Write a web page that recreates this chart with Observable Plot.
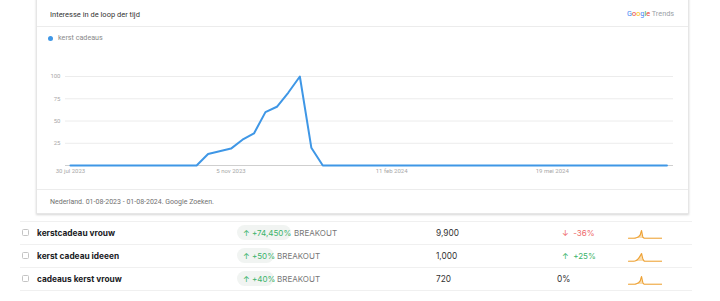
<!DOCTYPE html>
<html><head><meta charset="utf-8">
<script src="https://cdn.jsdelivr.net/npm/d3@7"></script>
<script src="https://cdn.jsdelivr.net/npm/@observablehq/plot@0.6"></script>
<style>
body{margin:0;width:720px;height:301px;position:relative;overflow:hidden;background:#fff;font-family:Roboto,sans-serif}
.abs{position:absolute;white-space:nowrap}
.card{left:36px;top:-4px;width:651px;height:216px;border:1px solid #e6e6e6;box-shadow:0 1px 2px rgba(0,0,0,.16);background:#fff}
.hline{height:1px;background:#ececec}
.t{line-height:10px;height:10px}
.q{font-family:Inter,sans-serif;font-weight:700;font-size:8.3px;color:#202124}
.pill{background:#f1f4f2;border-radius:8px;height:15px}
.grn{color:#3bb36a}
.red{color:#ee6a6a}
.gray{color:#777;font-family:Inter,sans-serif;font-size:8px}
.num{font-family:Inter,sans-serif;font-size:8.3px;color:#333}
.cb{width:5px;height:5px;border:1px solid #c4c4c4;border-radius:1.5px}
</style></head>
<body>
<div id="root"></div>
<script>
// ---- data ----
const series = "kerst cadeaus";
const startDate = "2023-07-30";
const weeklyValues = [0,0,0,0,0,0,0,0,0,0,0,0,13,16,19,29,36,60,66,82,100,20,0,0,0,0,0,0,0,0,0,0,0,0,0,0,0,0,0,0,0,0,0,0,0,0,0,0,0,0,0,0,0];
const xTickDates = ["2023-07-30","2023-11-05","2024-02-11","2024-05-19"];
const xTickLabels = ["30 jul 2023","5 nov 2023","11 feb 2024","19 mei 2024"];
const yTicks = [25,50,75,100];
const queries = ["kerstcadeau vrouw","kerst cadeau ideeen","cadeaus kerst vrouw"];
const growth = ["+74,450%","+50%","+40%"];
const volumes = ["9,900","1,000","720"];
const changes = ["-36%","+25%","0%"];
const changeDir = ["down","up","none"];
const spark1 = [3,3,3,3,3,5,10,16,26,45,100,15,3,3,3,3,3,3,3,3,3,3,3,3,3,3,3];
const spark2 = [4,4,4,4,4,7,13,25,45,70,100,30,5,4,4,4,4,4,4,4,4,4,4,4,4,4,4];
const spark3 = [3,3,3,3,3,4,8,15,26,45,100,20,3,3,3,3,3,3,3,3,3,3,3,3,3,3,3];
const sparks = [spark1, spark2, spark3];

// ---- build ----
const root = document.getElementById("root");
function el(cls, style, html){const d=document.createElement("div");d.className="abs "+cls;d.setAttribute("style",style);if(html!==undefined)d.innerHTML=html;root.appendChild(d);return d;}

el("card","");
el("t","left:50px;top:10px;font-size:7.5px;color:#333","Interesse in de loop der tijd");
el("t","left:627px;top:9px;font-size:7.3px;color:#999",
 '<span style="color:#4285f4">G</span><span style="color:#ea4335">o</span><span style="color:#fbbc05">o</span><span style="color:#4285f4">g</span><span style="color:#34a853">l</span><span style="color:#ea4335">e</span> <span style="color:#9aa0a6">Trends</span>');
el("hline","left:37px;top:26px;width:651px");
el("","left:48px;top:36px;width:5px;height:5px;border-radius:50%;background:#3f97e6");
el("t","left:58px;top:33px;font-size:7.2px;color:#8a8a8a",series);
el("hline","left:37px;top:189px;width:651px");
el("t","left:50px;top:197px;font-size:7px;color:#707070","Nederland. 01-08-2023 - 01-08-2024. Google Zoeken.");

const t0 = new Date(startDate);
const data = weeklyValues.map((v,i)=>({date:new Date(t0.getTime()+i*7*864e5), value:v}));
const chart = Plot.plot({
  width:720, height:125,
  marginLeft:65, marginRight:47, marginTop:16, marginBottom:20,
  style:{fontFamily:"Roboto,sans-serif", fontSize:"6px", color:"#a8a8a8", background:"transparent"},
  x:{type:"utc", domain:[new Date("2023-07-27"), new Date("2024-08-01")]},
  y:{domain:[0,100]},
  marks:[
    Plot.gridY(yTicks,{stroke:"#ececec", strokeOpacity:1}),
    Plot.ruleY([0],{stroke:"#cfcfcf"}),
    Plot.axisY({ticks:yTicks, tickSize:0, tickPadding:5, label:null}),
    Plot.axisX({ticks:xTickDates.map(d=>new Date(d)), tickFormat:(d,i)=>xTickLabels[i], tickSize:0, tickPadding:3, label:null}),
    Plot.lineY(data,{x:"date", y:"value", stroke:"#3f97e6", strokeWidth:2})
  ]
});
const cw = el("","left:0;top:60px");
cw.appendChild(chart);

const rowC = [232.5,255.5,278.5];
const lines = [221,244,267,290];
lines.forEach(y=>el("hline","left:20px;top:"+y+"px;width:672px;background:#f0f0f0"));
queries.forEach((q,i)=>{
  const c=rowC[i];
  el("cb","left:22px;top:"+(c-3.5)+"px");
  el("t q","left:37px;top:"+(c-5)+"px",q);
  const pillW = growth[i].length>5?54:37;
  el("pill","left:236.5px;top:"+(c-7.5)+"px;width:"+pillW+"px");
  el("t grn","left:243px;top:"+(c-5)+"px;font-family:Inter,sans-serif;font-size:8px",'<span style="font-size:8px">&#8593;</span> '+growth[i]);
  el("t gray","left:"+(236.5+pillW+3.5)+"px;top:"+(c-5)+"px","BREAKOUT");
  el("t num","left:436px;top:"+(c-5)+"px",volumes[i]);
  if(changeDir[i]==="down") el("t red","left:562px;top:"+(c-5)+"px;font-family:Inter,sans-serif;font-size:8px","&#8595;&nbsp; "+changes[i]);
  else if(changeDir[i]==="up") el("t grn","left:562px;top:"+(c-5)+"px;font-family:Inter,sans-serif;font-size:8px","&#8593;&nbsp; "+changes[i]);
  else el("t num","left:557px;top:"+(c-5)+"px",changes[i]);
  const sd = sparks[i].map((v,j)=>({j, v}));
  const sp = Plot.plot({
    width:34, height:10, margin:0, marginTop:1, marginBottom:1,
    x:{axis:null, domain:[0, sd.length-1]}, y:{axis:null, domain:[0,100]},
    style:{background:"transparent"},
    marks:[
      Plot.areaY(sd,{x:"j", y:"v", fill:"#f7c77a", fillOpacity:0.6}),
      Plot.lineY(sd,{x:"j", y:"v", stroke:"#eea236", strokeWidth:1.1})
    ]
  });
  const sw = el("","left:628px;top:"+(c-4)+"px");
  sw.appendChild(sp);
});
</script>
</body></html>
